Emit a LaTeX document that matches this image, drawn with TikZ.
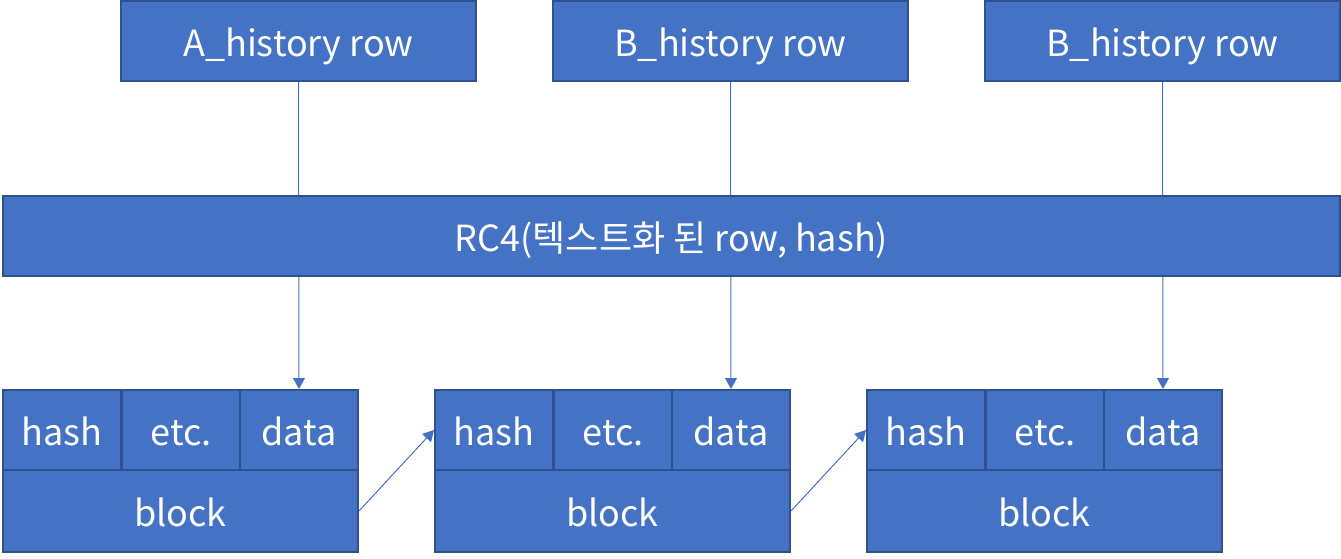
\documentclass[tikz,border=0pt]{standalone}
\usepackage{fontspec}
\setmainfont{Noto Sans CJK KR}
\usetikzlibrary{backgrounds,arrows.meta}
\definecolor{boxblue}{HTML}{4472C4}
\definecolor{boxedge}{HTML}{2F528F}
\tikzset{
    box/.style={draw=boxedge, fill=boxblue, line width=2pt, text=white, inner sep=0pt,
        text height=32pt, text depth=2pt, font=\fontsize{36}{40}\selectfont},
    cell/.style={box, minimum width=118pt, minimum height=80pt},
    link/.style={draw=boxblue, line width=1pt, -{Triangle[width=12pt,length=11pt]}},
}
\begin{document}
\begin{tikzpicture}[x=1pt,y=-1pt]
    \useasboundingbox (0,0) rectangle (1341,558);

    % history rows
    \node[box, minimum width=355pt, minimum height=80pt] (rowa) at (298.5,41) {A\_history row};
    \node[box, minimum width=355pt, minimum height=80pt] (rowb) at (730.5,41) {B\_history row};
    \node[box, minimum width=355pt, minimum height=80pt] (rowc) at (1162.5,41) {B\_history row};

    \node[box, minimum width=1337pt, minimum height=80pt] (rc4) at (671.5,236) {RC4(텍스트화 된 row, hash)};

    % blocks
    \foreach \n/\x in {1/3, 2/435, 3/867} {
        \node[cell] (hash\n) at (\x+59,430) {hash};
        \node[cell] (etc\n) at (\x+178,430) {etc.};
        \node[cell] (data\n) at (\x+296,430) {data};
        \node[box, minimum width=355pt, minimum height=82pt] (block\n) at (\x+177.5,511) {block};
    }

    \begin{pgfonlayer}{background}
        \draw[link] (rowa.south) -- (data1.north);
        \draw[link] (rowb.south) -- (data2.north);
        \draw[link] (rowc.south) -- (data3.north);
    \end{pgfonlayer}

    \draw[link] (block1.east) -- (hash2.west);
    \draw[link] (block2.east) -- (hash3.west);

\end{tikzpicture}
\end{document}
